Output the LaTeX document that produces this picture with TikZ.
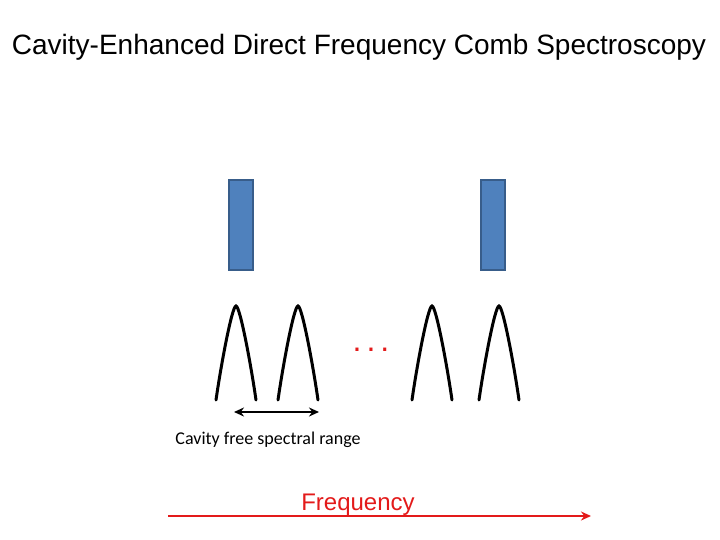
\documentclass[tikz,border=0pt]{standalone}
\usepackage{fontspec}
\setmainfont{Liberation Sans}
\newfontfamily\calib{Carlito}
\usetikzlibrary{arrows.meta}
\definecolor{mblue}{HTML}{4F81BD}
\definecolor{mborder}{HTML}{385D8A}
\definecolor{mred}{HTML}{E31A1A}
\begin{document}
\begin{tikzpicture}[x=1pt,y=-1pt,
  mirror/.style={draw=mborder,fill=mblue,line width=2pt},
  peak/.style={draw=black,line width=3pt,line cap=round}]
\useasboundingbox (0,0) rectangle (720,540);
\node (title) at (359,47) {\fontsize{28}{32}\selectfont Cavity-Enhanced Direct Frequency Comb Spectroscopy};
\node[mirror,minimum width=24pt,minimum height=90pt,inner sep=0pt] (m1) at (241,225) {};
\node[mirror,minimum width=24pt,minimum height=90pt,inner sep=0pt] (m2) at (493,225) {};
\foreach \x in {236,298,432,499}{
  \draw[peak] (\x-20,400) .. controls (\x-15,365) and (\x-4,306) .. (\x,306) .. controls (\x+4,306) and (\x+15,365) .. (\x+20,400);
}
\node[text=mred] (dots) at (371,350) {\fontsize{32}{32}\selectfont .\hspace{5pt}.\hspace{5pt}.};
\coordinate (a1) at (234,412);
\coordinate (a2) at (319,412);
\draw[line width=2pt,{Stealth[length=10pt,width=9pt]}-{Stealth[length=10pt,width=9pt]}] (a1) -- (a2);
\node (fsr) at (268,440) {\calib\fontsize{18}{20}\selectfont Cavity free spectral range};
\node[text=mred] (freq) at (358,505) {\fontsize{24}{26}\selectfont Frequency};
\coordinate (f1) at (168,516);
\coordinate (f2) at (591,516);
\draw[mred,line width=2pt,-{Stealth[length=10pt,width=9pt]}] (f1) -- (f2);
\end{tikzpicture}
\end{document}
